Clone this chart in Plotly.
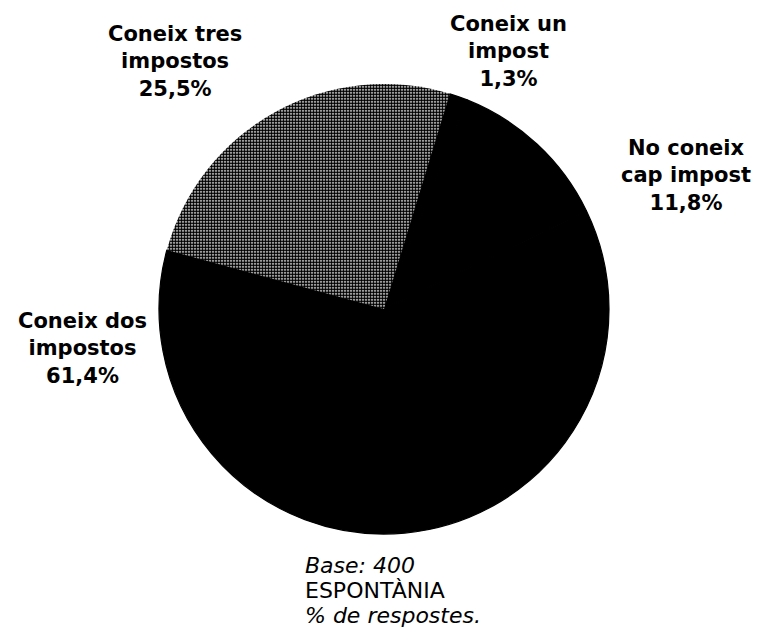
import plotly.graph_objects as go

# Data
categories = ["Coneix un impost", "No coneix cap impost", "Coneix dos impostos", "Coneix tres impostos"]
label_lines = [["Coneix un", "impost"], ["No coneix", "cap impost"], ["Coneix dos", "impostos"], ["Coneix tres", "impostos"]]
values = [1.3, 11.8, 61.4, 25.5]
note_lines = ["Base: 400", "ESPONTÀNIA", "% de respostes."]

W, H = 762, 628
cx, cy, r = 384, 309, 225

fills = ["#000000", "#000000", "#000000", "#ffffff"]
fg = ["#000000", "#000000", "#000000", "#000000"]
shapes = ["", "", "", "."]

fig = go.Figure(go.Pie(
    labels=categories,
    values=values,
    sort=False,
    direction="clockwise",
    rotation=17,
    textinfo="none",
    hoverinfo="label+percent",
    marker=dict(colors=fills,
                line=dict(color=["#000000", "#000000", "#000000", "#000000"], width=[1.2, 1.2, 1.2, 0]),
                pattern=dict(shape=shapes, fgcolor=fg, bgcolor=fills, size=3, solidity=0.72)),
    domain=dict(x=[(cx - r) / W, (cx + r) / W], y=[1 - (cy + r) / H, 1 - (cy - r) / H]),
    showlegend=False,
))

# label positions (pixels, centre of text block)
label_pos = [(508, 51), (686, 176), (82, 348), (175, 62)]
annotations = []
for lines, v, (px, py) in zip(label_lines, values, label_pos):
    txt = "<br>".join(lines + [f"{v:.1f}".replace(".", ",") + "%"])
    annotations.append(dict(
        x=px / W, y=1 - py / H, xref="paper", yref="paper",
        text=f"<b>{txt}</b>", showarrow=False, align="center",
        xanchor="center", yanchor="middle",
        font=dict(family="DejaVu Sans", size=21, color="black"),
    ))

note_y = [565, 590, 615]
note_style = ["italic", "normal", "italic"]
for t, y, st in zip(note_lines, note_y, note_style):
    annotations.append(dict(
        x=303 / W, y=1 - y / H, xref="paper", yref="paper",
        text=f"<i>{t}</i>" if st == "italic" else t, showarrow=False,
        xanchor="left", yanchor="middle",
        font=dict(family="DejaVu Sans", size=22, color="black"),
    ))

fig.update_layout(
    width=W, height=H,
    margin=dict(l=0, r=0, t=0, b=0),
    paper_bgcolor="white", plot_bgcolor="white",
    annotations=annotations,
)

fig.write_html("out.html", config={"displayModeBar": False},
               post_script="document.body.style.margin='0px';")
